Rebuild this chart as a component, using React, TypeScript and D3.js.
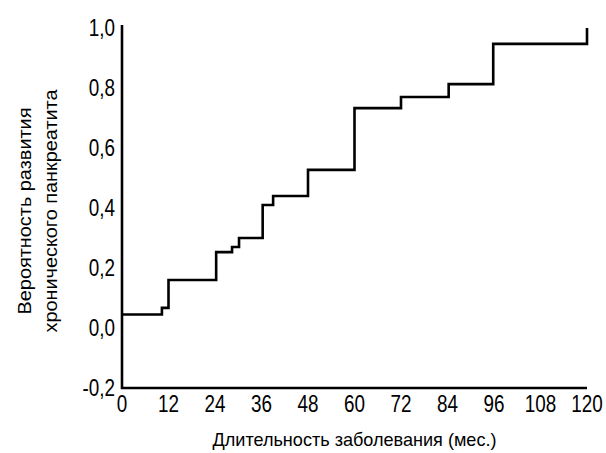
import React from "react";
import * as d3 from "d3";

// Cumulative probability of developing chronic pancreatitis by disease duration
const months = [0, 10.3, 12, 24.3, 28.4, 30.2, 36.3, 39, 48, 60, 72, 84.3, 95.8, 120];
const probability = [0.045, 0.067, 0.16, 0.253, 0.27, 0.3, 0.41, 0.44, 0.527, 0.733, 0.77, 0.813, 0.947, 1.0];

const xTicks = [0, 12, 24, 36, 48, 60, 72, 84, 96, 108, 120];
const yTicks = [-0.2, 0, 0.2, 0.4, 0.6, 0.8, 1.0];

const xTitle = "Длительность заболевания (мес.)";
const yTitleLines = ["Вероятность развития", "хронического панкреатита"];

const W = 606;
const H = 453;

export default function App() {
  const x = d3.scaleLinear().domain([0, 120]).range([122, 587]);
  const y = d3.scaleLinear().domain([-0.2, 1.0]).range([388, 28]);

  const points: [number, number][] = months.map((m, i) => [m, probability[i]]);
  const line = d3
    .line<[number, number]>()
    .x((d) => x(d[0]))
    .y((d) => y(d[1]))
    .curve(d3.curveStepAfter);

  const fmt = (v: number) => v.toFixed(1).replace(".", ",");
  const tickFont = "'Liberation Sans', Arial, sans-serif";
  const titleFont = "'Liberation Sans', Arial, sans-serif";
  const squeeze = 0.82;

  return (
    <svg
      width={W}
      height={H}
      style={{ position: "absolute", left: 0, top: 0, background: "#fff" }}
    >
      {/* axes */}
      <path
        d={`M${x(0)},${y(1.0) - 3} L${x(0)},${y(-0.2)} L${x(120)},${y(-0.2)}`}
        fill="none"
        stroke="#000"
        strokeWidth={2.6}
        strokeLinejoin="miter"
      />
      {/* step curve */}
      <path
        d={line(points) || ""}
        fill="none"
        stroke="#000"
        strokeWidth={2.6}
        strokeLinejoin="miter"
      />
      {/* y tick labels */}
      {yTicks.map((t) => (
        <text
          key={"y" + t}
          transform={`translate(115,${y(t) + 8}) scale(${squeeze},1)`}
          textAnchor="end"
          fontFamily={tickFont}
          fontSize={23}
          fill="#000"
        >
          {fmt(t)}
        </text>
      ))}
      {/* x tick labels */}
      {xTicks.map((t) => (
        <text
          key={"x" + t}
          transform={`translate(${x(t)},412) scale(${squeeze},1)`}
          textAnchor="middle"
          fontFamily={tickFont}
          fontSize={23}
          fill="#000"
        >
          {t}
        </text>
      ))}
      {/* x title */}
      <text
        x={(x(0) + x(120)) / 2}
        y={446}
        textAnchor="middle"
        fontFamily={titleFont}
        fontSize={19}
        textLength={284}
        lengthAdjust="spacingAndGlyphs"
        fill="#000"
      >
        {xTitle}
      </text>
      {/* y title */}
      {yTitleLines.map((s, i) => (
        <text
          key={s}
          transform={`translate(${31 + i * 26},211) rotate(-90)`}
          textAnchor="middle"
          fontFamily={titleFont}
          fontSize={18}
          textLength={i === 0 ? 207 : 243}
          lengthAdjust="spacingAndGlyphs"
          fill="#000"
        >
          {s}
        </text>
      ))}
    </svg>
  );
}
